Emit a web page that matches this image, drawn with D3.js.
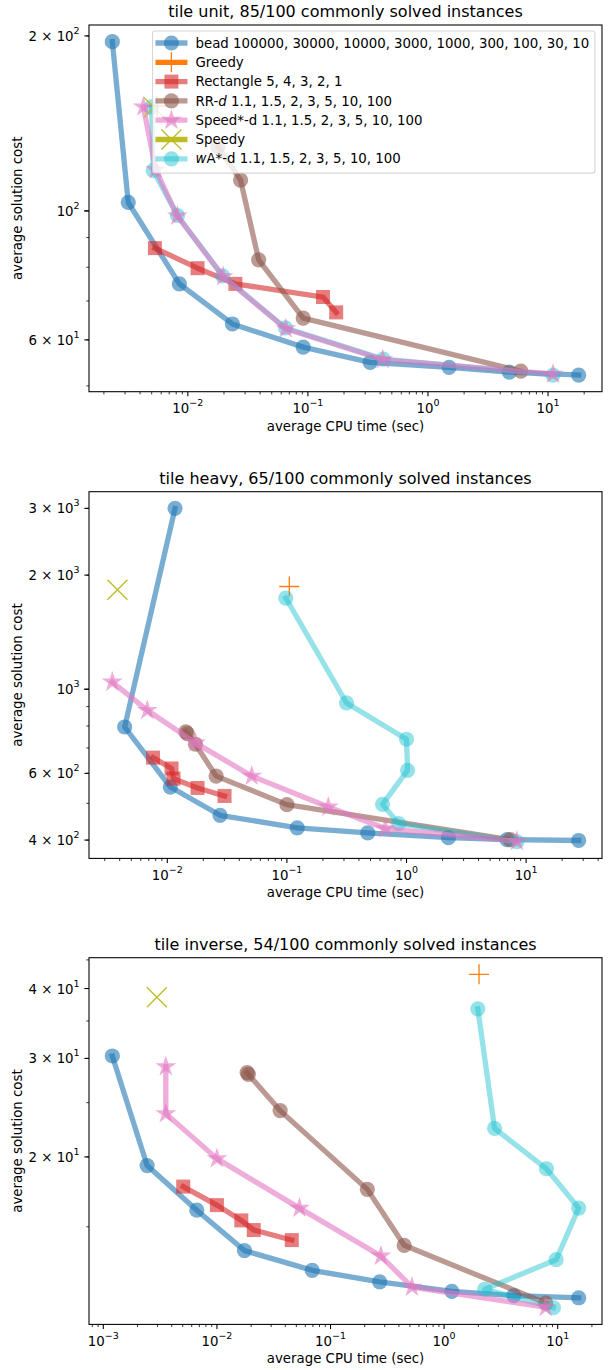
<!DOCTYPE html>
<html>
<head>
<meta charset="utf-8">
<script src="https://cdn.jsdelivr.net/npm/d3@7"></script>
<style>
  body { margin: 0; background: #fff; }
  svg text { font-family: "DejaVu Sans", sans-serif; fill: #000; }
</style>
</head>
<body>
<svg id="chart" width="608" height="1370"></svg>
<script>

// DATA  (x = average CPU time in sec, y = average solution cost)

const titles = [
	'tile unit, 85/100 commonly solved instances',
	'tile heavy, 65/100 commonly solved instances',
	'tile inverse, 54/100 commonly solved instances'
];

// tile unit
const unitBead      = [[0.00235,195.5],[0.00319,103.4],[0.0085,74.9],[0.0235,63.9],[0.0914,58.3],[0.330,54.9],[1.50,53.8],[4.76,52.8],[18.0,52.2]];
const unitGreedy    = [[0.00553,151.5]];
const unitRect      = [[0.00532,86.3],[0.01205,79.7],[0.0249,74.9],[0.1336,71.1],[0.172,66.9]];
const unitRRd       = [[0.0178,129],[0.0275,113],[0.0389,82.4],[0.0914,65.4],[5.94,53.0]];
const unitSpeedStar = [[0.00426,151],[0.0054,117.8],[0.00818,98.0],[0.0197,77.1],[0.0655,62.7],[0.42,55.5],[11.0,52.4]];
const unitSpeedy    = [[0.00522,150.7]];
const unitWAstar    = [[0.0050,151],[0.00515,117.4],[0.0082,98.2],[0.0195,77.3],[0.0650,62.9],[0.425,55.6],[11.0,52.2]];

// tile heavy
const heavyBead      = [[0.0116,3000],[0.0044,795],[0.0106,552],[0.0276,465],[0.122,431],[0.474,418],[2.24,406],[6.94,401],[27.5,399]];
const heavyGreedy    = [[0.1047,1866]];
const heavyRect      = [[0.00759,660],[0.01086,618],[0.01127,581],[0.0179,549],[0.0301,523]];
const heavyRRd       = [[0.0143,772],[0.0147,764],[0.0172,716],[0.0256,590],[0.1,496],[7.37,401]];
const heavySpeedStar = [[0.00347,1045],[0.0068,880],[0.0172,722],[0.0508,590],[0.222,489],[0.664,429],[8.36,397]];
const heavySpeedy    = [[0.00383,1829]];
const heavyWAstar    = [[0.0979,1740],[0.315,920],[1.0,738],[1.02,611],[0.63,497],[0.86,442],[8.36,396]];

// tile inverse
const invBead      = [[0.0012,30.3],[0.00243,19.3],[0.00665,16.06],[0.01747,13.6],[0.069,12.54],[0.271,11.96],[1.17,11.5],[4.11,11.3],[15.3,11.2]];
const invGreedy    = [[2.03,42.4]];
const invRect      = [[0.00505,17.7],[0.01,16.4],[0.0164,15.4],[0.0211,14.8],[0.0456,14.2]];
const invRRd       = [[0.01845,28.3],[0.0189,28.1],[0.036,24.2],[0.211,17.5],[0.445,13.9],[7.84,10.96]];
const invSpeedStar = [[0.00355,29.0],[0.00355,23.9],[0.01,19.86],[0.0533,16.2],[0.278,13.3],[0.521,11.7],[7.84,10.77]];
const invSpeedy    = [[0.00296,38.6]];
const invWAstar    = [[1.98,36.8],[2.78,22.5],[7.96,19.05],[15.3,16.2],[9.69,13.1],[2.28,11.6],[9.17,10.75]];

// labelled ticks
const unitXTicks  = [1e-2, 1e-1, 1, 10];
const heavyXTicks = [1e-2, 1e-1, 1, 10];
const invXTicks   = [1e-3, 1e-2, 1e-1, 1, 10];
const unitYTicks  = [60, 100, 200];
const heavyYTicks = [400, 600, 1000, 2000, 3000];
const invYTicks   = [20, 30, 40];

// series: legend text parts ([text, italic])
const seriesInfo = [
	{ key: 'bead',      color: '#1f77b4', marker: 'circle', alpha: 0.6,  label: [['bead 100000, 30000, 10000, 3000, 1000, 300, 100, 30, 10']] },
	{ key: 'greedy',    color: '#ff7f0e', marker: 'plus',   alpha: 1,    label: [['Greedy']] },
	{ key: 'rect',      color: '#d62728', marker: 'square', alpha: 0.6,  label: [['Rectangle 5, 4, 3, 2, 1']] },
	{ key: 'rrd',       color: '#8c564b', marker: 'circle', alpha: 0.6,  label: [['RR-'], ['d', true], [' 1.1, 1.5, 2, 3, 5, 10, 100']] },
	{ key: 'speedstar', color: '#e377c2', marker: 'star',   alpha: 0.6,  label: [['Speed*-d 1.1, 1.5, 2, 3, 5, 10, 100']] },
	{ key: 'speedy',    color: '#bcbd22', marker: 'cross',  alpha: 1,    label: [['Speedy']] },
	{ key: 'wastar',    color: '#17becf', marker: 'circle', alpha: 0.45, label: [['w', true], ['A*-d 1.1, 1.5, 2, 3, 5, 10, 100']] }
];
const drawOrder = ['bead', 'greedy', 'rect', 'rrd', 'wastar', 'speedstar', 'speedy'];

const panels = [
	{ title: titles[0], xTicks: unitXTicks, yTicks: unitYTicks, legend: true,
		series: { bead: unitBead, greedy: unitGreedy, rect: unitRect, rrd: unitRRd, speedstar: unitSpeedStar, speedy: unitSpeedy, wastar: unitWAstar } },
	{ title: titles[1], xTicks: heavyXTicks, yTicks: heavyYTicks, legend: false,
		series: { bead: heavyBead, greedy: heavyGreedy, rect: heavyRect, rrd: heavyRRd, speedstar: heavySpeedStar, speedy: heavySpeedy, wastar: heavyWAstar } },
	{ title: titles[2], xTicks: invXTicks, yTicks: invYTicks, legend: false,
		series: { bead: invBead, greedy: invGreedy, rect: invRect, rrd: invRRd, speedstar: invSpeedStar, speedy: invSpeedy, wastar: invWAstar } }
];

// LAYOUT

const left = 89, right = 602,
			tops = [25, 491.7, 957.7],
			plotH = 366.7,
			fs = 13.33;

const svg = d3.select('#chart');

const markerPath = type => {
	if (type === 'circle') return d3.symbol(d3.symbolCircle, Math.PI * 7.6 * 7.6)();
	if (type === 'square') return d3.symbol(d3.symbolSquare, 14 * 14)();
	if (type === 'star') return d3.symbol(d3.symbolStar, 11 * 11 / 0.8908130915292852)();
	const h = 10;
	if (type === 'plus') return `M${-h},0H${h}M0,${-h}V${h}`;
	return `M${-h},${-h}L${h},${h}M${-h},${h}L${h},${-h}`;
};

const drawMarker = (g, s, cx, cy) => {
	const m = g.append('path')
		.attr('d', markerPath(s.marker))
		.attr('transform', `translate(${cx},${cy})`);
	if (s.marker === 'plus' || s.marker === 'cross') {
		m.attr('fill', 'none').attr('stroke', s.color).attr('stroke-width', 1.33).attr('stroke-opacity', s.alpha);
	} else {
		m.attr('fill', s.color).attr('fill-opacity', s.alpha);
	}
};

const supLabel = (text, v) => {
	const e = Math.round(Math.floor(Math.log10(v) + 1e-9)),
				m = Math.round(v / Math.pow(10, e));
	text.append('tspan').text(m === 1 ? '10' : `${m} × 10`);
	text.append('tspan')
		.attr('font-size', 9.5)
		.attr('dy', -7)
		.text(String(e).replace('-', '−'));
};

const logPad = (vals) => {
	const [a, b] = d3.extent(vals, v => Math.log10(v)),
				pad = (b - a) * 0.05;
	return [Math.pow(10, a - pad), Math.pow(10, b + pad)];
};

panels.forEach((p, i) => {

	const top = tops[i], bottom = top + plotH;
	const all = Object.values(p.series).flat();

	const x = d3.scaleLog().domain(logPad(all.map(d => d[0]))).range([left, right]);
	const y = d3.scaleLog().domain(logPad(all.map(d => d[1]))).range([bottom, top]);

	const g = svg.append('g');

	// title + axis labels
	g.append('text')
		.attr('x', (left + right) / 2)
		.attr('y', top - 8)
		.attr('text-anchor', 'middle')
		.attr('font-size', 16)
		.text(p.title);

	g.append('text')
		.attr('x', (left + right) / 2)
		.attr('y', bottom + 39)
		.attr('text-anchor', 'middle')
		.attr('font-size', fs)
		.text('average CPU time (sec)');

	g.append('text')
		.attr('transform', `translate(22,${(top + bottom) / 2}) rotate(-90)`)
		.attr('text-anchor', 'middle')
		.attr('font-size', fs)
		.text('average solution cost');

	// ticks
	const [xa, xb] = x.domain(), [ya, yb] = y.domain();
	const xMinor = x.ticks().filter(t => t > xa && t < xb);
	const yMinor = y.ticks().filter(t => t > ya && t < yb);
	const isDecade = t => Math.abs(Math.log10(t) - Math.round(Math.log10(t))) < 1e-9;

	xMinor.forEach(t => {
		const major = isDecade(t);
		g.append('line')
			.attr('x1', x(t)).attr('x2', x(t))
			.attr('y1', bottom).attr('y2', bottom + (major ? 4.67 : 2.67))
			.attr('stroke', '#000').attr('stroke-width', major ? 1.07 : 0.8);
	});

	yMinor.forEach(t => {
		const major = isDecade(t);
		g.append('line')
			.attr('x1', left).attr('x2', left - (major ? 4.67 : 2.67))
			.attr('y1', y(t)).attr('y2', y(t))
			.attr('stroke', '#000').attr('stroke-width', major ? 1.07 : 0.8);
	});

	p.xTicks.forEach(t => {
		const txt = g.append('text')
			.attr('x', x(t))
			.attr('y', bottom + 21.5)
			.attr('text-anchor', 'middle')
			.attr('font-size', fs);
		supLabel(txt, t);
	});

	p.yTicks.forEach(t => {
		g.append('line')
			.attr('x1', left).attr('x2', left - 4.67)
			.attr('y1', y(t)).attr('y2', y(t))
			.attr('stroke', '#000').attr('stroke-width', 1.07);
		const txt = g.append('text')
			.attr('x', left - 9.33)
			.attr('y', y(t) + 5)
			.attr('text-anchor', 'end')
			.attr('font-size', fs);
		supLabel(txt, t);
	});

	// series
	const line = d3.line().x(d => x(d[0])).y(d => y(d[1]));

	for (const key of drawOrder) {
		const s = seriesInfo.find(d => d.key === key),
					pts = p.series[key];
		const sg = g.append('g');
		if (pts.length > 1) {
			sg.append('path')
				.attr('d', line(pts))
				.attr('fill', 'none')
				.attr('stroke', s.color)
				.attr('stroke-width', 5.3)
				.attr('stroke-opacity', s.alpha)
				.attr('stroke-linejoin', 'round')
				.attr('stroke-linecap', 'square');
		}
		pts.forEach(d => drawMarker(sg, s, x(d[0]), y(d[1])));
	}

	// frame
	g.append('rect')
		.attr('x', left).attr('y', top)
		.attr('width', right - left).attr('height', plotH)
		.attr('fill', 'none')
		.attr('stroke', '#000')
		.attr('stroke-width', 1.07);

	// legend
	if (p.legend) {
		const lg = g.append('g'),
					lx = 152.5, ly = 31, rowH = 19.3;
		const frame = lg.append('rect')
			.attr('x', lx).attr('y', ly)
			.attr('rx', 2.67).attr('ry', 2.67)
			.attr('fill', '#fff').attr('fill-opacity', 0.8)
			.attr('stroke', '#ccc').attr('stroke-opacity', 0.8)
			.attr('stroke-width', 1.07);
		let maxEnd = 0;
		seriesInfo.forEach((s, k) => {
			const cy = ly + 12 + k * rowH;
			lg.append('line')
				.attr('x1', 158.1).attr('x2', 184.8)
				.attr('y1', cy).attr('y2', cy)
				.attr('stroke', s.color)
				.attr('stroke-width', 5.3)
				.attr('stroke-opacity', s.alpha)
				.attr('stroke-linecap', 'square');
			drawMarker(lg, s, 171.4, cy);
			const txt = lg.append('text')
				.attr('x', 195.5)
				.attr('y', cy + 4.6)
				.attr('font-size', fs);
			s.label.forEach(([t, it]) => {
				txt.append('tspan')
					.attr('font-style', it ? 'italic' : null)
					.text(t);
			});
			maxEnd = Math.max(maxEnd, 195.5 + txt.node().getComputedTextLength());
		});
		frame
			.attr('width', maxEnd + 5.8 - lx)
			.attr('height', seriesInfo.length * rowH + 7);
	}

});

</script>
</body>
</html>
